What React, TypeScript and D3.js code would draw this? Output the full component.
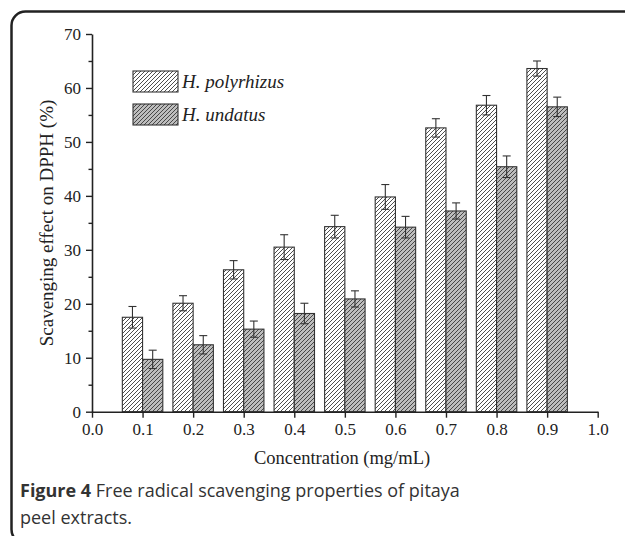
import { useEffect, useRef } from "react";
import * as d3 from "d3";

const concentrations = [0.1, 0.2, 0.3, 0.4, 0.5, 0.6, 0.7, 0.8, 0.9];
const polyrhizus = [17.5, 20.1, 26.3, 30.5, 34.3, 39.8, 52.6, 56.8, 63.6];
const polyrhizusErr = [2.0, 1.4, 1.7, 2.3, 2.1, 2.3, 1.7, 1.8, 1.4];
const undatus = [9.7, 12.4, 15.3, 18.2, 20.9, 34.2, 37.2, 45.4, 56.5];
const undatusErr = [1.7, 1.7, 1.5, 1.9, 1.5, 2.0, 1.5, 2.0, 1.8];
const xTicks = [0, 0.1, 0.2, 0.3, 0.4, 0.5, 0.6, 0.7, 0.8, 0.9, 1.0];
const yTicks = [0, 10, 20, 30, 40, 50, 60, 70];
const yMinorTicks = [5, 15, 25, 35, 45, 55, 65];
const seriesNames = ["H. polyrhizus", "H. undatus"];

const W = 625;
const H = 536;
const serif = "'Liberation Serif', 'DejaVu Serif', serif";
const ink = "#222";

export default function App() {
  const svgRef = useRef<SVGSVGElement | null>(null);

  useEffect(() => {
    document.body.style.margin = "0";
    const svgEl = svgRef.current;
    if (!svgEl) return;
    svgEl.innerHTML = "";
    const svg = d3.select(svgEl).attr("width", W).attr("height", H);

    // hatch patterns
    const defs = svg.append("defs");
    const hatch = (id: string, bg: string) => {
      const p = defs
        .append("pattern")
        .attr("id", id)
        .attr("patternUnits", "userSpaceOnUse")
        .attr("width", 4)
        .attr("height", 4);
      p.append("rect").attr("width", 4).attr("height", 4).attr("fill", bg);
      p.append("path")
        .attr("d", "M-1,1 l2,-2 M0,4 l4,-4 M3,5 l2,-2")
        .attr("stroke", "#3a3a3a")
        .attr("stroke-width", 0.9);
    };
    hatch("hatch-poly", "#fff");
    hatch("hatch-und", "#bdbdbd");
    const fills = ["url(#hatch-poly)", "url(#hatch-und)"];

    // frame
    svg
      .append("rect")
      .attr("x", 11.5)
      .attr("y", 11.5)
      .attr("width", 700)
      .attr("height", 532)
      .attr("rx", 14)
      .attr("fill", "none")
      .attr("stroke", ink)
      .attr("stroke-width", 2.5);

    const x = d3.scaleLinear().domain([0, 1]).range([92, 597.7]);
    const y = d3.scaleLinear().domain([0, 70]).range([411.7, 34]);
    const barW = x(0.04) - x(0);

    const plot = svg.append("g");

    // bars
    const series = [
      { vals: polyrhizus, err: polyrhizusErr, off: -barW },
      { vals: undatus, err: undatusErr, off: 0 },
    ];
    series.forEach((s, si) => {
      const g = plot.append("g");
      g.selectAll("rect")
        .data(concentrations)
        .join("rect")
        .attr("x", (c) => x(c) + s.off)
        .attr("y", (_, i) => y(s.vals[i]))
        .attr("width", barW)
        .attr("height", (_, i) => y(0) - y(s.vals[i]))
        .attr("fill", fills[si])
        .attr("stroke", "#333")
        .attr("stroke-width", 1.1);

      const cx = (c: number) => x(c) + s.off + barW / 2;
      const eb = g
        .selectAll("g.err")
        .data(concentrations)
        .join("g")
        .attr("class", "err")
        .attr("stroke", "#333")
        .attr("stroke-width", 1.1);
      eb.append("line")
        .attr("x1", cx)
        .attr("x2", cx)
        .attr("y1", (_, i) => y(s.vals[i] - s.err[i]))
        .attr("y2", (_, i) => y(s.vals[i] + s.err[i]));
      eb.append("line")
        .attr("x1", (c) => cx(c) - 4)
        .attr("x2", (c) => cx(c) + 4)
        .attr("y1", (_, i) => y(s.vals[i] + s.err[i]))
        .attr("y2", (_, i) => y(s.vals[i] + s.err[i]));
      eb.append("line")
        .attr("x1", (c) => cx(c) - 4)
        .attr("x2", (c) => cx(c) + 4)
        .attr("y1", (_, i) => y(s.vals[i] - s.err[i]))
        .attr("y2", (_, i) => y(s.vals[i] - s.err[i]));
    });

    // axes
    const styleAxis = (g: d3.Selection<SVGGElement, unknown, null, undefined>) => {
      g.selectAll("path").attr("stroke", ink).attr("stroke-width", 1.6);
      g.selectAll("line").attr("stroke", ink).attr("stroke-width", 1.4);
      g.selectAll("text")
        .attr("fill", ink)
        .style("font-family", serif)
        .style("font-size", "17px");
    };

    const yAxis = svg
      .append("g")
      .attr("transform", `translate(${x(0)},0)`)
      .call(
        d3.axisLeft(y).tickValues(yTicks).tickSize(6).tickSizeOuter(0).tickPadding(5).tickFormat(d3.format("d"))
      );
    styleAxis(yAxis);

    const yMinor = svg
      .append("g")
      .attr("transform", `translate(${x(0)},0)`)
      .call(d3.axisLeft(y).tickValues(yMinorTicks).tickSize(3.5).tickFormat(() => ""));
    yMinor.select(".domain").remove();
    styleAxis(yMinor);

    const xAxis = svg
      .append("g")
      .attr("transform", `translate(0,${y(0)})`)
      .call(
        d3.axisBottom(x).tickValues(xTicks).tickSize(6).tickSizeOuter(0).tickPadding(5).tickFormat(d3.format(".1f"))
      );
    styleAxis(xAxis);

    // axis titles
    svg
      .append("text")
      .attr("x", 342)
      .attr("y", 464)
      .attr("text-anchor", "middle")
      .style("font-family", serif)
      .style("font-size", "18.5px")
      .attr("fill", ink)
      .text("Concentration (mg/mL)");

    svg
      .append("text")
      .attr("transform", `translate(53,223) rotate(-90)`)
      .attr("text-anchor", "middle")
      .style("font-family", serif)
      .style("font-size", "19px")
      .attr("fill", ink)
      .text("Scavenging effect on DPPH (%)");

    // legend
    const legend = svg
      .append("g")
      .selectAll("g")
      .data(seriesNames)
      .join("g")
      .attr("transform", (_, i) => `translate(133,${71 + i * 33})`);
    legend
      .append("rect")
      .attr("width", 45)
      .attr("height", 21)
      .attr("fill", (_, i) => fills[i])
      .attr("stroke", "#333")
      .attr("stroke-width", 1.1);
    legend
      .append("text")
      .attr("x", 49)
      .attr("y", 17)
      .style("font-family", serif)
      .style("font-size", "19px")
      .style("font-style", "italic")
      .attr("fill", ink)
      .text((d) => d);

    // caption
    const cap = svg
      .append("text")
      .style("font-family", "'Open Sans', 'Noto Sans', sans-serif")
      .style("font-size", "18px")
      .attr("fill", "#333");
    const l1 = cap.append("tspan").attr("x", 20).attr("y", 497);
    l1.append("tspan").style("font-weight", "bold").text("Figure 4");
    l1.append("tspan").text(" Free radical scavenging properties of pitaya");
    cap.append("tspan").attr("x", 20).attr("y", 524).text("peel extracts.");
  }, []);

  return <svg ref={svgRef} style={{ display: "block" }} />;
}
